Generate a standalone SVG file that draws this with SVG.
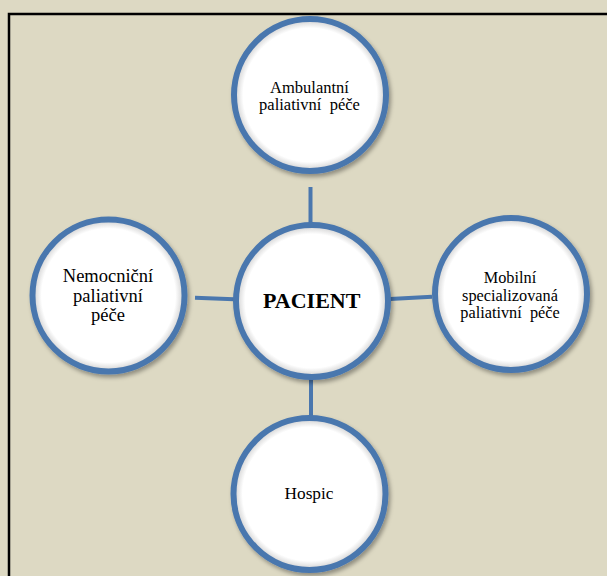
<svg xmlns="http://www.w3.org/2000/svg" width="607" height="576" viewBox="0 0 607 576">
<defs>
<style>
.node circle{fill:url(#fillg);stroke:#4A77AE;stroke-width:6;filter:url(#sh)}
.lbl{font-family:'Liberation Serif','Times New Roman',serif;fill:#000;text-anchor:middle;white-space:pre}
.conn line{stroke:#4A77AE;stroke-width:4}
</style>
<radialGradient id="fillg" cx="0.5" cy="0.5" r="0.5">
<stop offset="0.88" stop-color="#ffffff"/>
<stop offset="0.97" stop-color="#d9d9d9"/>
</radialGradient>
<filter id="sh" x="-20%" y="-20%" width="140%" height="140%">
<feDropShadow dx="2" dy="3" stdDeviation="2" flood-color="#000" flood-opacity="0.35"/>
</filter>
</defs>
<rect x="0" y="0" width="607" height="576" fill="#DDD9C3"/>
<path d="M9,580 V14 H612" fill="none" stroke="#000" stroke-width="2.5"/>
<g id="connectors" class="conn">
<line x1="310.5" y1="187" x2="310.5" y2="224"/>
<line x1="311" y1="378" x2="311" y2="416"/>
<line x1="195" y1="297.7" x2="234" y2="299.3"/>
<line x1="390" y1="299" x2="432" y2="296.7"/>
</g>
<g id="node-top" class="node">
<circle cx="310" cy="95" r="76"/>
<text class="lbl" font-family="Liberation Serif, serif" font-size="16.5"><tspan x="309.5" y="92.7">Ambulantní</tspan><tspan x="309.5" y="110">paliativní  péče</tspan></text>
</g>
<g id="node-left" class="node">
<circle cx="108.5" cy="295.5" r="76"/>
<text class="lbl" font-family="Liberation Serif, serif" font-size="18.5"><tspan x="108" y="281.7">Nemocniční</tspan><tspan x="108" y="301.5">paliativní</tspan><tspan x="108" y="320.5">péče</tspan></text>
</g>
<g id="node-right" class="node">
<circle cx="511" cy="294" r="76"/>
<text class="lbl" font-family="Liberation Serif, serif" font-size="16.3"><tspan x="510" y="283">Mobilní</tspan><tspan x="510" y="300.5">specializovaná</tspan><tspan x="510" y="318">paliativní  péče</tspan></text>
</g>
<g id="node-bottom" class="node">
<circle cx="309.5" cy="494" r="76"/>
<text class="lbl" font-family="Liberation Serif, serif" font-size="17.3" x="309" y="499.3">Hospic</text>
</g>
<g id="node-center" class="node">
<circle cx="312" cy="301" r="76"/>
<text class="lbl" font-family="Liberation Serif, serif" font-size="22" font-weight="bold" x="311.7" y="308.3">PACIENT</text>
</g>
</svg>
